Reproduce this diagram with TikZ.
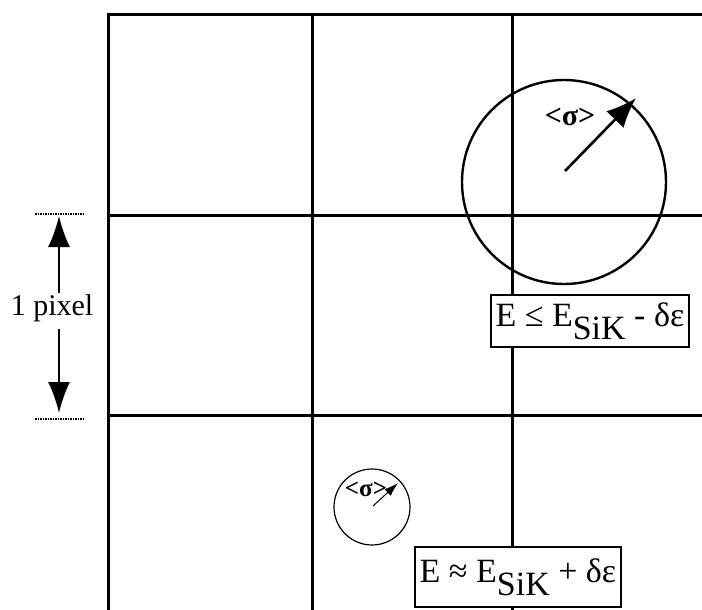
\documentclass[tikz,border=0pt]{standalone}
\usepackage{fontspec}
\setmainfont{Liberation Serif}
\usetikzlibrary{arrows.meta}

\begin{document}
\begin{tikzpicture}[x=1pt, y=-1pt,
    gridline/.style={line width=3pt},
    spot/.style={draw, circle, inner sep=0pt},
    energybox/.style={draw, line width=2pt, fill=white, inner xsep=5pt, font=\fontsize{34}{34}\selectfont},
    bigarrow/.style={line width=2.6pt, -{Latex[length=30pt, width=24pt]}},
    dimarrow/.style={line width=2pt, -{Latex[length=31pt, width=22pt]}}]
    \useasboundingbox (0,0) rectangle (702,610);

    % Pixel grid
    \draw[gridline] (108,610) -- (108,15) -- (702,15);
    \draw[gridline] (108,215) -- (702,215);
    \draw[gridline] (108,415) -- (702,415);
    \draw[gridline] (312,15) -- (312,610);
    \draw[gridline] (512,15) -- (512,610);

    % Large spot
    \node[spot, line width=2.4pt, minimum size=204pt] (bigspot) at (564,182) {};
    \coordinate (bigtail) at (565,171);
    \coordinate (bighead) at (636,98);
    \draw[bigarrow] (bigtail) -- (bighead);
    \node[font=\bfseries\fontsize{30}{30}\selectfont, inner sep=0pt] (bigsigma) at (570,117) {<σ>};

    % Small spot
    \node[spot, line width=1.2pt, minimum size=76pt] (smallspot) at (372,507) {};
    \coordinate (smalltail) at (373,506);
    \coordinate (smallhead) at (398,483);
    \draw[line width=1pt, -{Latex[length=14pt, width=9pt]}] (smalltail) -- (smallhead);
    \node[font=\bfseries\fontsize{25}{25}\selectfont, inner sep=0pt] (smallsigma) at (366,489) {<σ>};

    % Energy labels
    \node[energybox, inner ysep=7pt] (lowbox) at (590,321) {E ≤ E\raisebox{-13pt}{SiK} - δε};
    \node[energybox, inner ysep=11pt] (highbox) at (518,577) {E ≈ E\raisebox{-13pt}{SiK} + δε};

    % One pixel dimension
    \draw[densely dotted, line width=1.5pt] (35,214) -- (83,214);
    \draw[densely dotted, line width=1.5pt] (35,419) -- (83,419);
    \node[font=\fontsize{30}{30}\selectfont] (pixlabel) at (52,308) {1 pixel};
    \coordinate (toptip) at (59,216);
    \coordinate (bottip) at (59,413);
    \draw[dimarrow] (pixlabel.north -| toptip) ++(0,2) -- (toptip);
    \draw[dimarrow] (pixlabel.south -| bottip) ++(0,4) -- (bottip);

\end{tikzpicture}
\end{document}
